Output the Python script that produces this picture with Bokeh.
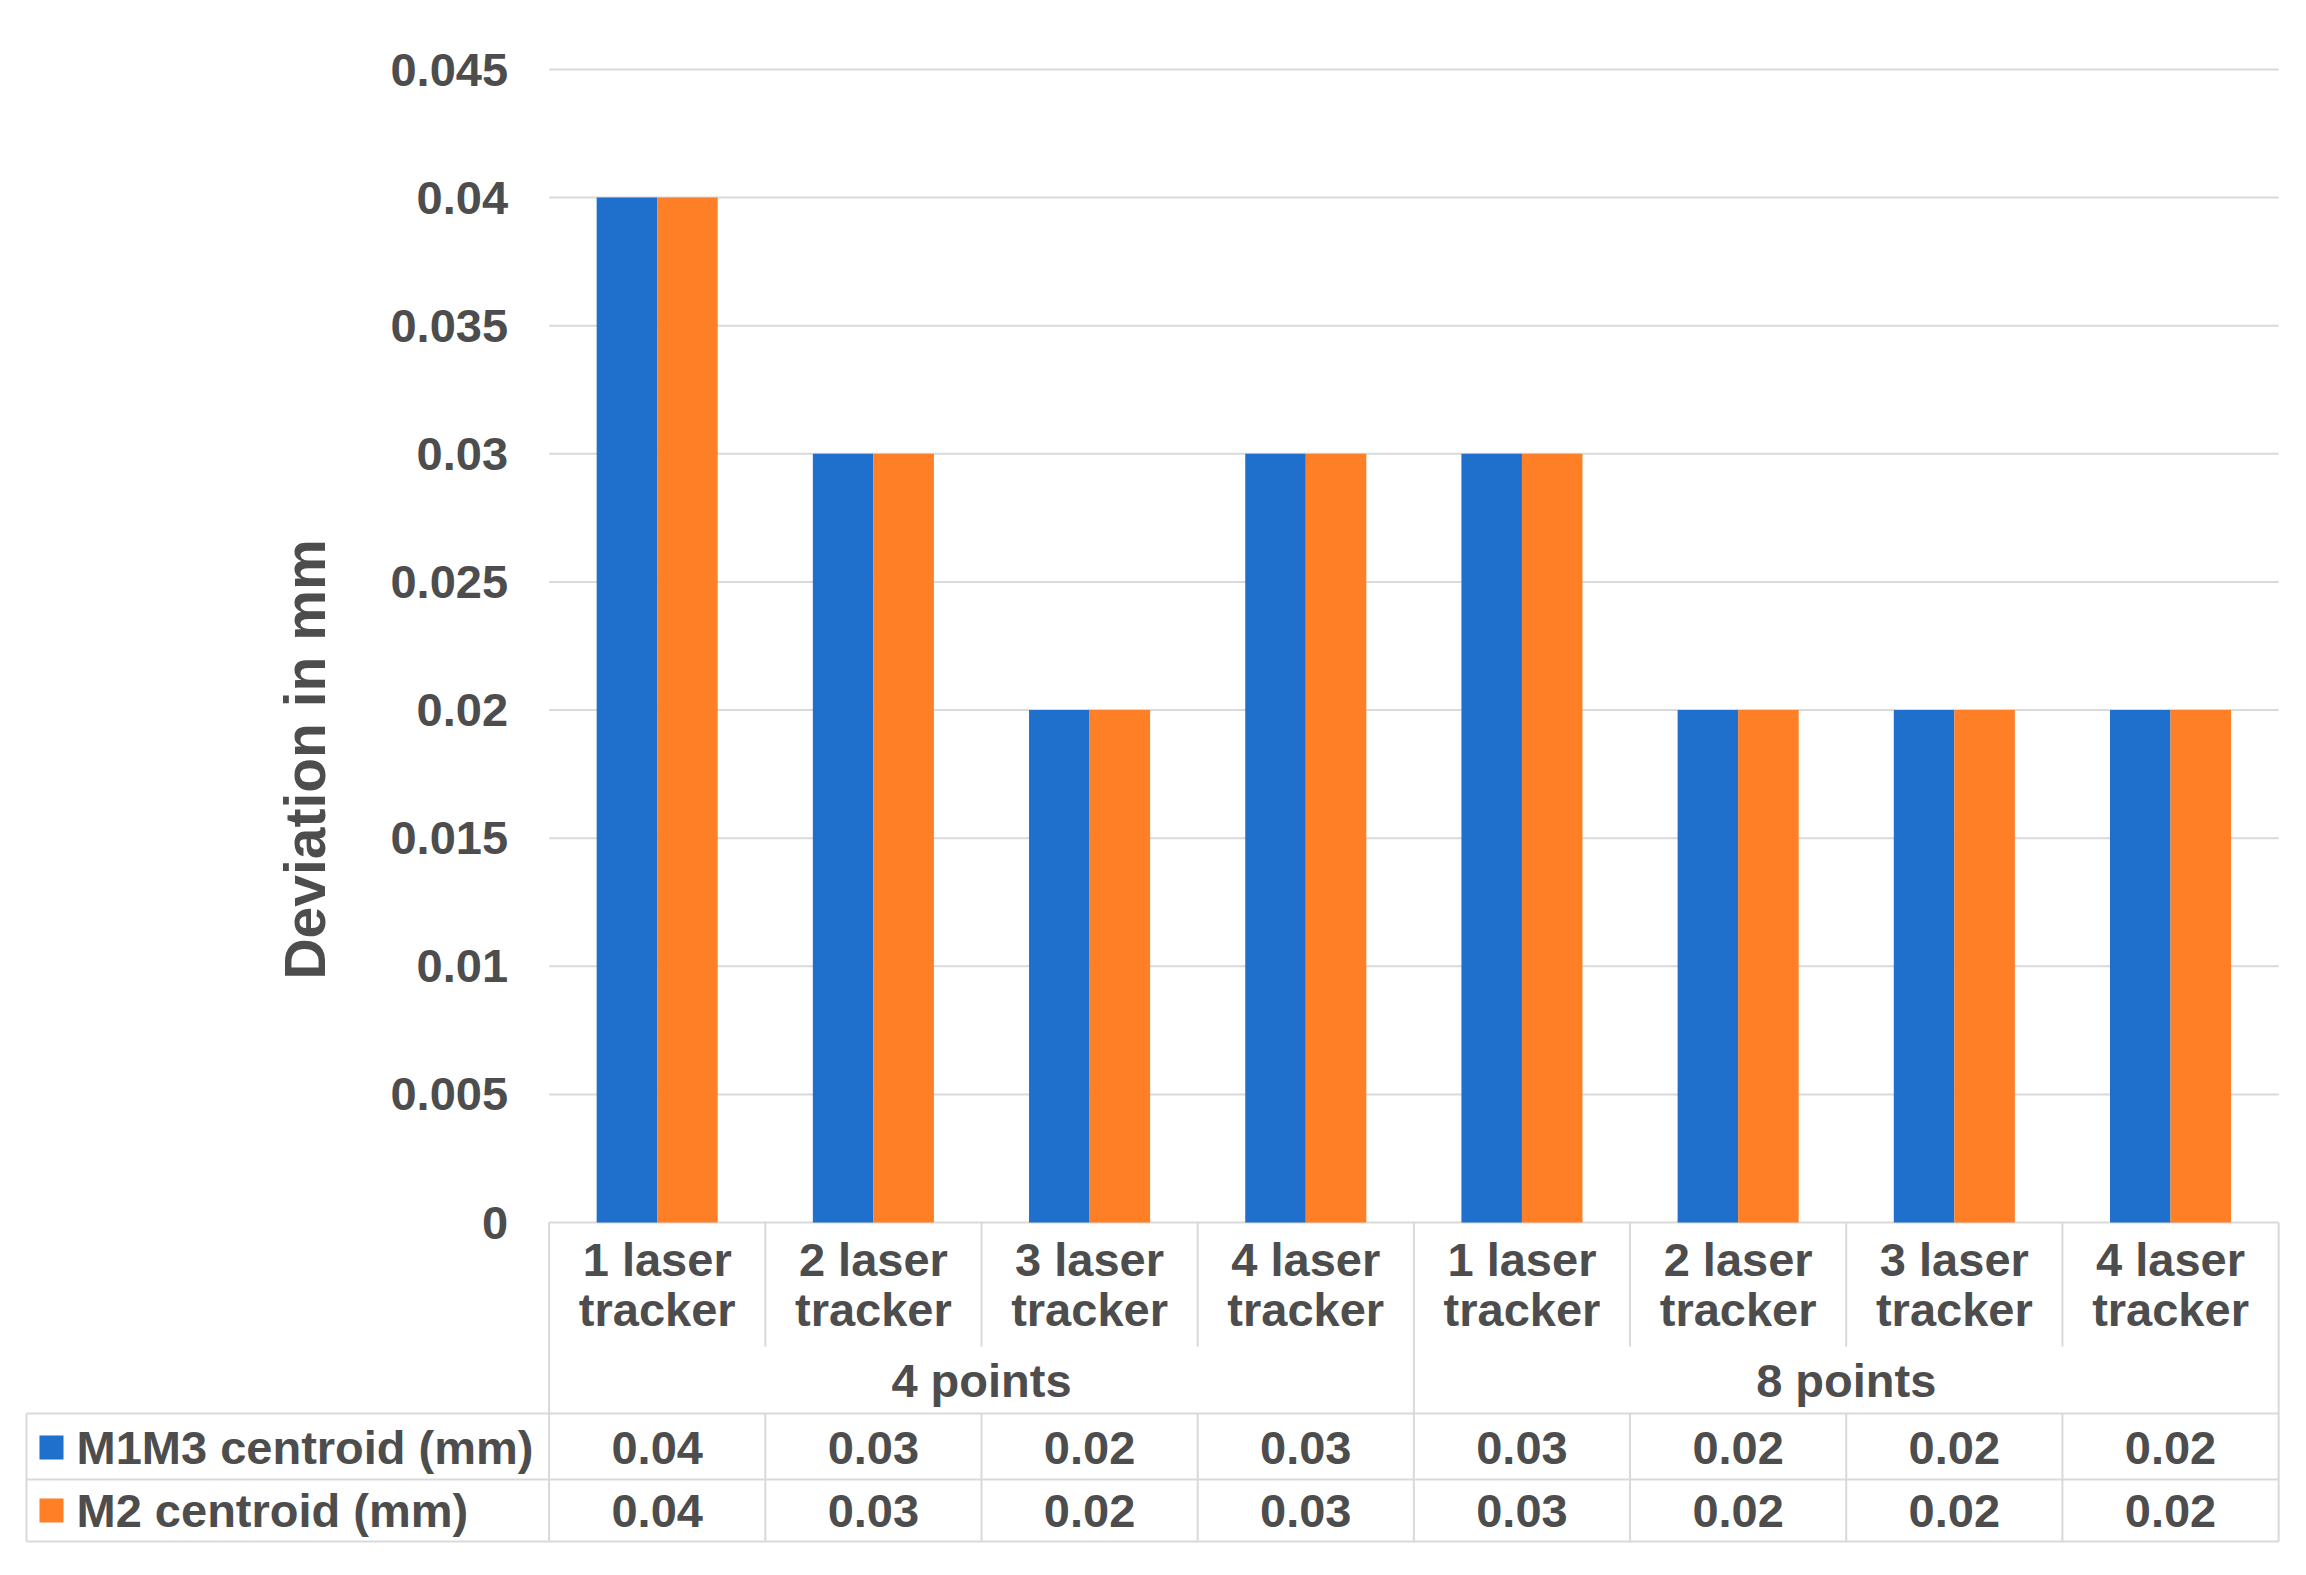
import math
import numpy as np
from bokeh.plotting import figure
from bokeh.models import Range1d, LinearAxis, FixedTicker, NumeralTickFormatter, Label
from bokeh.core.properties import value
from bokeh.embed import file_html
from bokeh.resources import INLINE

# ---------------- data ----------------
categories = ["1 laser tracker", "2 laser tracker", "3 laser tracker", "4 laser tracker",
              "1 laser tracker", "2 laser tracker", "3 laser tracker", "4 laser tracker"]
groups = ["4 points", "8 points"]
group_sizes = [4, 4]
series_names = ["M1M3 centroid (mm)", "M2 centroid (mm)"]
m1m3 = [0.04, 0.03, 0.02, 0.03, 0.03, 0.02, 0.02, 0.02]
m2 = [0.04, 0.03, 0.02, 0.03, 0.03, 0.02, 0.02, 0.02]
y_ticks = [0, 0.005, 0.01, 0.015, 0.02, 0.025, 0.03, 0.035, 0.04, 0.045]
y_title = "Deviation in mm"

# ---------------- style ----------------
colors = ["#1F6FCC", "#FF7F27"]
FONT = "Liberation Sans"
TXT = "#4D4D4D"
LINE = "#D9D9D9"
FS = "47px"

W, H = 2290, 1559
PX_CAT = 216.19          # pixels per category
PX_VAL = 25622.0         # pixels per mm of deviation
LEFT_PX = 548.6          # x (px) of the first category boundary
ZERO_PX = 1222.0         # y (px, from top) of the value 0


def yd(px_from_top):
    """pixel row (from top) -> data value"""
    return (ZERO_PX - px_from_top) / PX_VAL


def xd(px_from_left):
    return (px_from_left - LEFT_PX) / PX_CAT


n = len(categories)
p = figure(width=W, height=H, output_backend="svg", toolbar_location=None,
           x_range=Range1d(xd(0), xd(W)), y_range=Range1d(yd(H), yd(0)),
           x_axis_type=None, y_axis_type=None, min_border=0,
           background_fill_color="white", border_fill_color="white")
p.outline_line_color = None
p.grid.visible = False

# y axis pinned at the first category boundary
yax = LinearAxis(ticker=FixedTicker(ticks=y_ticks),
                 formatter=NumeralTickFormatter(format="0.[000]"),
                 fixed_location=0, bounds=(0, max(y_ticks)))
yax.axis_line_color = None
yax.major_tick_line_color = None
yax.minor_tick_line_color = None
yax.major_tick_out = 0
yax.major_label_standoff = 41
yax.major_label_text_font = FONT
yax.major_label_text_font_style = "bold"
yax.major_label_text_font_size = FS
yax.major_label_text_color = TXT
p.add_layout(yax, "left")

# gridlines
p.segment(x0=[0] * len(y_ticks), x1=[n] * len(y_ticks), y0=y_ticks, y1=y_ticks,
          line_color=LINE, line_width=2)

# bars
xc = np.arange(n) + 0.5
bw = 0.28
p.vbar(x=xc - bw / 2, top=m1m3, width=bw, bottom=0, fill_color=colors[0], line_color=None)
p.vbar(x=xc + bw / 2, top=m2, width=bw, bottom=0, fill_color=colors[1], line_color=None)

# y title
p.add_layout(Label(x=xd(304), y=yd(759), text=y_title, angle=math.pi / 2,
                   text_align="center", text_baseline="middle",
                   text_font=FONT, text_font_style="bold",
                   text_font_size="57px", text_color=TXT))

# ---------------- data table ----------------
cat_row_bot = yd(1346)
row1_top = yd(1413)
row2_top = yd(1479)
table_bot = yd(1541)
legend_left = xd(26)

# horizontal lines
hx0 = [legend_left, legend_left, legend_left]
hx1 = [n, n, n]
hy = [row1_top, row2_top, table_bot]
p.segment(x0=hx0, x1=hx1, y0=hy, y1=hy, line_color=LINE, line_width=2)

# vertical lines
group_bounds = [0] + list(np.cumsum(group_sizes))
vx, vy0, vy1 = [], [], []
for b in range(n + 1):
    if b in group_bounds:
        vx.append(b); vy0.append(0); vy1.append(table_bot)
    else:
        vx += [b, b]; vy0 += [0, row1_top]; vy1 += [cat_row_bot, table_bot]
vx.append(legend_left); vy0.append(row1_top); vy1.append(table_bot)
p.segment(x0=vx, x1=vx, y0=vy0, y1=vy1, line_color=LINE, line_width=2)

# category labels
cat_text = ["\n".join(c.rsplit(" ", 1)) for c in categories]
p.text(x=xc, y=[yd(1284)] * n, text=cat_text, text_align="center", text_baseline="middle",
       text_font=value(FONT), text_font_style="bold", text_font_size=FS,
       text_color=TXT, text_line_height=0.94)

# group labels
gc = [(group_bounds[i] + group_bounds[i + 1]) / 2 for i in range(len(groups))]
p.text(x=gc, y=[yd(1380)] * len(groups), text=groups, text_align="center",
       text_baseline="middle", text_font=value(FONT), text_font_style="bold",
       text_font_size=FS, text_color=TXT)

# value rows
row_y = [yd(1447), yd(1510)]
for vals, ry in zip([m1m3, m2], row_y):
    p.text(x=xc, y=[ry] * n, text=["%g" % v for v in vals], text_align="center",
           text_baseline="middle", text_font=value(FONT), text_font_style="bold",
           text_font_size=FS, text_color=TXT)

# legend keys + names
p.scatter(x=[xd(51)] * 2, y=row_y, marker="square", size=24, fill_color=colors,
          line_color=None)
p.text(x=[xd(76)] * 2, y=row_y, text=series_names, text_align="left",
       text_baseline="middle", text_font=value(FONT), text_font_style="bold",
       text_font_size=FS, text_color=TXT)

open("out.html", "w").write(file_html(p, INLINE))
